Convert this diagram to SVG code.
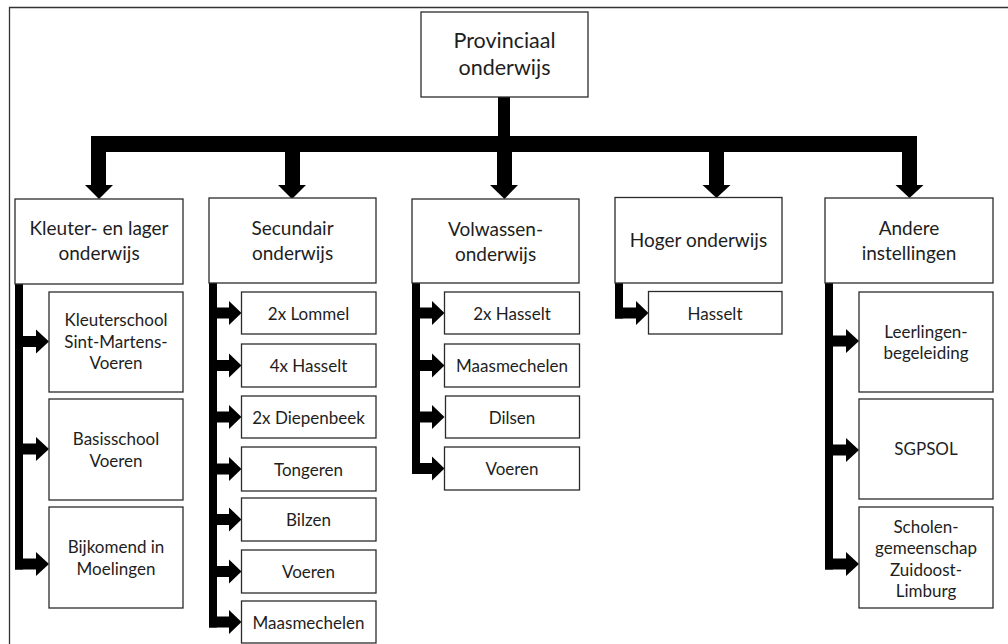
<svg xmlns="http://www.w3.org/2000/svg" width="1008" height="644" viewBox="0 0 1008 644">
<style>
.box{fill:#fff;stroke:#2b2b2b;stroke-width:1.3}
.t{font-family:Lato,"Liberation Sans",sans-serif;font-size:19px;fill:#1e1e1e;text-anchor:middle}
.tr{font-size:21.5px}
.ts{font-size:17px}
.c{fill:#000}
.frame{fill:none;stroke:#333;stroke-width:1.3}
</style>
<rect width="1008" height="644" fill="#fff"/>
<path class="frame" d="M9.5,644 V7.5 H1008"/>
<g id="connectors">
  <rect class="c" x="498" y="97" width="12" height="40"/>
  <rect class="c" x="91" y="136" width="826" height="16"/>
  <rect class="c" x="91" y="150" width="15" height="36"/><polygon class="c" points="85,185 113,185 99,199"/>
  <rect class="c" x="285" y="150" width="15" height="36"/><polygon class="c" points="278,185 306,185 292,199"/>
  <rect class="c" x="497" y="150" width="15" height="36"/><polygon class="c" points="490,185 518,185 504.5,199"/>
  <rect class="c" x="709" y="150" width="15" height="36"/><polygon class="c" points="702.5,185 730.5,185 716.5,198"/>
  <rect class="c" x="902" y="150" width="15" height="36"/><polygon class="c" points="895.5,185 923.5,185 909.5,198"/>
  <!-- Kleuter -->
  <rect class="c" x="15" y="284" width="8" height="285.5"/>
  <rect class="c" x="15" y="336" width="22" height="11"/><polygon class="c" points="36,329.5 36,353.5 49,341.5"/>
  <rect class="c" x="15" y="443.5" width="22" height="11"/><polygon class="c" points="36,437 36,461 49,449"/>
  <rect class="c" x="15" y="558.5" width="22" height="11"/><polygon class="c" points="36,552 36,576 49,564"/>
  <!-- Secundair -->
  <rect class="c" x="209" y="283" width="8" height="344.5"/>
  <rect class="c" x="209" y="307.5" width="21" height="11"/><polygon class="c" points="229,301 229,325 241.5,313"/>
  <rect class="c" x="209" y="360" width="21" height="11"/><polygon class="c" points="229,353.5 229,377.5 241.5,365.5"/>
  <rect class="c" x="209" y="411.5" width="21" height="11"/><polygon class="c" points="229,405 229,429 241.5,417"/>
  <rect class="c" x="209" y="463.5" width="21" height="11"/><polygon class="c" points="229,457 229,481 241.5,469"/>
  <rect class="c" x="209" y="514" width="21" height="11"/><polygon class="c" points="229,507.5 229,531.5 241.5,519.5"/>
  <rect class="c" x="209" y="566" width="21" height="11"/><polygon class="c" points="229,559.5 229,583.5 241.5,571.5"/>
  <rect class="c" x="209" y="616.5" width="21" height="11"/><polygon class="c" points="229,610 229,634 241.5,622"/>
  <!-- Volwassen -->
  <rect class="c" x="412" y="283" width="8" height="191"/>
  <rect class="c" x="412" y="307.5" width="21" height="11"/><polygon class="c" points="432,301 432,325 444.5,313"/>
  <rect class="c" x="412" y="360" width="21" height="11"/><polygon class="c" points="432,353.5 432,377.5 444.5,365.5"/>
  <rect class="c" x="412" y="411.5" width="21" height="11"/><polygon class="c" points="432,405 432,429 444.5,417"/>
  <rect class="c" x="412" y="463" width="21" height="11"/><polygon class="c" points="432,456.5 432,480.5 444.5,468.5"/>
  <!-- Hoger -->
  <rect class="c" x="615" y="283" width="8" height="35.5"/>
  <rect class="c" x="615" y="307.5" width="22" height="11"/><polygon class="c" points="636,301 636,325 648.5,313"/>
  <!-- Andere -->
  <rect class="c" x="825" y="283" width="8" height="286.5"/>
  <rect class="c" x="825" y="335.5" width="22" height="11"/><polygon class="c" points="846,329 846,353 859,341"/>
  <rect class="c" x="825" y="444.5" width="22" height="11"/><polygon class="c" points="846,438 846,462 859,450"/>
  <rect class="c" x="825" y="558.5" width="22" height="11"/><polygon class="c" points="846,552 846,576 859,564"/>
</g>
<g id="root"><rect class="box" x="421" y="12" width="167" height="85"/><text class="t tr" x="504.5" y="47.5">Provinciaal</text><text class="t tr" x="504.5" y="74.5">onderwijs</text></g>
<g id="kleuter"><rect class="box" x="15" y="199" width="168" height="85"/><text class="t" x="99" y="235">Kleuter- en lager</text><text class="t" x="99" y="260">onderwijs</text></g>
<g id="secundair"><rect class="box" x="209" y="198" width="167" height="85"/><text class="t" x="292.5" y="235">Secundair</text><text class="t" x="292.5" y="260">onderwijs</text></g>
<g id="volwassen"><rect class="box" x="412" y="199" width="167" height="84"/><text class="t" x="495.5" y="236">Volwassen-</text><text class="t" x="495.5" y="261">onderwijs</text></g>
<g id="hoger"><rect class="box" x="615" y="197.5" width="167" height="85.5"/><text class="t" x="698.5" y="247">Hoger onderwijs</text></g>
<g id="andere"><rect class="box" x="825" y="198" width="168" height="85"/><text class="t" x="909" y="235">Andere</text><text class="t" x="909" y="260">instellingen</text></g>

<g id="k1"><rect class="box" x="49" y="292" width="134" height="100"/><text class="t ts" x="116" y="326">Kleuterschool</text><text class="t ts" x="116" y="347.5">Sint-Martens-</text><text class="t ts" x="116" y="369">Voeren</text></g>
<g id="k2"><rect class="box" x="49" y="399" width="134" height="101"/><text class="t ts" x="116" y="445">Basisschool</text><text class="t ts" x="116" y="466.5">Voeren</text></g>
<g id="k3"><rect class="box" x="49" y="507" width="134" height="101"/><text class="t ts" x="116" y="553">Bijkomend in</text><text class="t ts" x="116" y="575">Moelingen</text></g>

<g id="s1"><rect class="box" x="241.5" y="292" width="134.5" height="42"/><text class="t ts" x="308.5" y="319.5">2x Lommel</text></g>
<g id="s2"><rect class="box" x="241.5" y="344" width="134.5" height="43"/><text class="t ts" x="308.5" y="372">4x Hasselt</text></g>
<g id="s3"><rect class="box" x="241.5" y="396" width="134.5" height="42"/><text class="t ts" x="308.5" y="423.5">2x Diepenbeek</text></g>
<g id="s4"><rect class="box" x="241.5" y="447" width="134.5" height="44"/><text class="t ts" x="308.5" y="475.5">Tongeren</text></g>
<g id="s5"><rect class="box" x="241.5" y="498" width="134.5" height="43"/><text class="t ts" x="308.5" y="526">Bilzen</text></g>
<g id="s6"><rect class="box" x="241.5" y="550" width="134.5" height="43"/><text class="t ts" x="308.5" y="578">Voeren</text></g>
<g id="s7"><rect class="box" x="241.5" y="601" width="134.5" height="42"/><text class="t ts" x="308.5" y="628.5">Maasmechelen</text></g>

<g id="v1"><rect class="box" x="444.5" y="292" width="135" height="42"/><text class="t ts" x="512" y="319.5">2x Hasselt</text></g>
<g id="v2"><rect class="box" x="444.5" y="344" width="135" height="43"/><text class="t ts" x="512" y="372">Maasmechelen</text></g>
<g id="v3"><rect class="box" x="445.5" y="396" width="134" height="42"/><text class="t ts" x="512" y="423.5">Dilsen</text></g>
<g id="v4"><rect class="box" x="444.5" y="447" width="135" height="43"/><text class="t ts" x="512" y="475">Voeren</text></g>

<g id="h1"><rect class="box" x="648.5" y="291.5" width="133.5" height="42.5"/><text class="t ts" x="715" y="319.5">Hasselt</text></g>

<g id="a1"><rect class="box" x="859" y="292" width="134" height="100"/><text class="t ts" x="926" y="337.5">Leerlingen-</text><text class="t ts" x="926" y="359">begeleiding</text></g>
<g id="a2"><rect class="box" x="859" y="399" width="134" height="100"/><text class="t ts" x="926" y="455">SGPSOL</text></g>
<g id="a3"><rect class="box" x="859" y="507" width="134" height="101"/><text class="t ts" x="926" y="532.5">Scholen-</text><text class="t ts" x="926" y="554">gemeenschap</text><text class="t ts" x="926" y="575.5">Zuidoost-</text><text class="t ts" x="926" y="597">Limburg</text></g>
</svg>
